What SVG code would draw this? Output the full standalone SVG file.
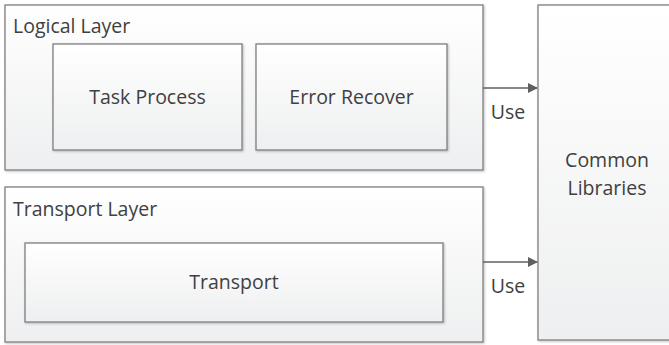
<svg xmlns="http://www.w3.org/2000/svg" width="669" height="345" viewBox="0 0 669 345">
<defs>
<linearGradient id="g" x1="0" y1="0" x2="0" y2="1">
<stop offset="0" stop-color="#ffffff"/>
<stop offset="1" stop-color="#eeeff0"/>
</linearGradient>
<filter id="sh" x="-5%" y="-5%" width="110%" height="110%">
<feDropShadow dx="1" dy="1" stdDeviation="0.8" flood-color="#000" flood-opacity="0.25"/>
</filter>
<marker id="ah" markerWidth="10" markerHeight="10" refX="9" refY="5" orient="auto" markerUnits="userSpaceOnUse">
<path d="M0,0 L10,5 L0,10 z" fill="#606060"/>
</marker>
</defs>
<style>
rect{fill:url(#g);stroke:#7f7f7f;stroke-width:1.3;filter:url(#sh)}
text{font-family:"Open Sans","Liberation Sans",sans-serif;fill:#404040;font-size:19.5px}
.c{text-anchor:middle}
.e{stroke:#606060;stroke-width:1.5;fill:none}
</style>
<g id="logical-layer">
<rect x="5" y="5" width="478" height="165"/>
<text x="13" y="33">Logical Layer</text>
</g>
<g id="task-process">
<rect x="53" y="44" width="189" height="106"/>
<text class="c" x="147.5" y="104">Task Process</text>
</g>
<g id="error-recover">
<rect x="256" y="44" width="191" height="106"/>
<text class="c" x="351.5" y="104">Error Recover</text>
</g>
<g id="transport-layer">
<rect x="5" y="187" width="478" height="155"/>
<text x="13" y="216">Transport Layer</text>
</g>
<g id="transport">
<rect x="25" y="243" width="418" height="79"/>
<text class="c" x="234" y="289">Transport</text>
</g>
<g id="common-libraries">
<rect x="538" y="5" width="140" height="335"/>
<text class="c" x="607" y="167">Common</text>
<text class="c" x="607" y="195">Libraries</text>
</g>
<g id="connectors">
<line class="e" x1="483" y1="88" x2="537" y2="88" marker-end="url(#ah)"/>
<line class="e" x1="483" y1="262" x2="537" y2="262" marker-end="url(#ah)"/>
<text class="c" x="508" y="119">Use</text>
<text class="c" x="508" y="293">Use</text>
</g>
</svg>
